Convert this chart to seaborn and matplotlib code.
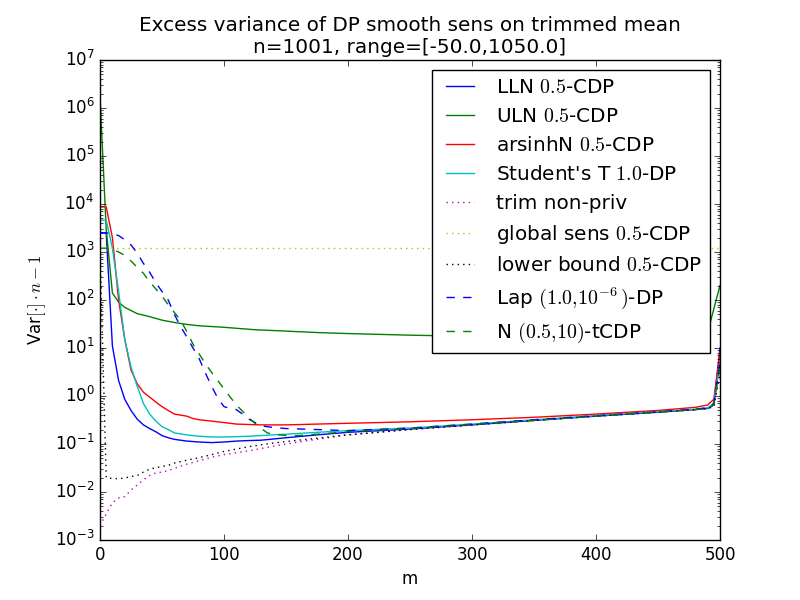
import numpy as np
import pandas as pd
import matplotlib
matplotlib.use("Agg")
import matplotlib.pyplot as plt
import seaborn as sns

# ---------------- data ----------------
m_lln = [0, 5, 10, 15, 20, 25, 30, 35, 40, 45, 50, 55, 60, 70, 80, 90, 100, 110, 120, 130,
         150, 175, 200, 250, 300, 350, 400, 450, 480, 490, 495, 500]
v_lln = [2500, 2500, 11, 2.1, 0.85, 0.5, 0.33, 0.25, 0.21, 0.18, 0.15, 0.135, 0.125, 0.115,
         0.11, 0.107, 0.11, 0.115, 0.118, 0.12, 0.135, 0.155, 0.175, 0.205, 0.25, 0.31, 0.38,
         0.46, 0.52, 0.55, 0.65, 10]

m_uln = [0, 5, 10, 15, 20, 30, 40, 50, 60, 70, 80, 90, 100, 125, 150, 175, 200, 250, 300,
         350, 400, 450, 480, 490, 495, 500]
v_uln = [1.8e6, 3000, 140, 90, 70, 52, 45, 38, 34, 31, 29, 28, 27, 24, 22.5, 21, 20, 18.5,
         17.5, 17, 16.5, 17, 18.5, 21, 65, 200]

m_ars = [0, 5, 10, 15, 20, 25, 30, 35, 40, 45, 50, 55, 60, 65, 70, 75, 80, 90, 100, 110,
         120, 130, 150, 175, 200, 250, 300, 350, 400, 450, 480, 490, 495, 500]
v_ars = [8700, 8700, 2000, 100, 15, 3.5, 1.8, 1.2, 0.95, 0.75, 0.6, 0.5, 0.42, 0.4, 0.38,
         0.34, 0.32, 0.3, 0.28, 0.26, 0.255, 0.25, 0.25, 0.26, 0.27, 0.29, 0.32, 0.36, 0.42,
         0.5, 0.58, 0.65, 0.85, 8]

m_stu = [0, 5, 10, 15, 20, 25, 30, 35, 40, 45, 50, 55, 60, 70, 80, 90, 100, 110, 120, 130,
         150, 175, 200, 250, 300, 350, 400, 450, 480, 490, 495, 500]
v_stu = [4600, 4600, 1200, 150, 15, 4, 1.6, 0.7, 0.42, 0.3, 0.23, 0.2, 0.17, 0.155, 0.145,
         0.14, 0.14, 0.142, 0.145, 0.15, 0.16, 0.175, 0.19, 0.215, 0.26, 0.32, 0.39, 0.47,
         0.53, 0.57, 0.7, 5]

m_trim = [0, 5, 10, 15, 20, 25, 30, 35, 40, 45, 50, 55, 60, 70, 80, 90, 100, 120, 140, 160,
          200, 250, 300, 350, 400, 450, 480, 490, 495, 500]
v_trim = [0.002, 0.0035, 0.006, 0.0075, 0.008, 0.011, 0.014, 0.018, 0.022, 0.025, 0.026,
          0.028, 0.031, 0.038, 0.045, 0.053, 0.06, 0.072, 0.09, 0.11, 0.155, 0.2, 0.25, 0.31,
          0.38, 0.46, 0.52, 0.55, 0.6, 3]

m_glob = [0, 500]
v_glob = [1200, 1200]

m_low = [0, 5, 10, 15, 20, 25, 30, 35, 40, 45, 50, 55, 60, 70, 80, 90, 100, 120, 140, 160,
         200, 250, 300, 350, 400, 450, 480, 490, 495, 500]
v_low = [1200, 0.02, 0.019, 0.019, 0.0195, 0.021, 0.022, 0.026, 0.03, 0.032, 0.034, 0.036,
         0.04, 0.046, 0.052, 0.06, 0.07, 0.088, 0.105, 0.12, 0.155, 0.2, 0.25, 0.31, 0.38,
         0.46, 0.52, 0.55, 0.6, 3]

m_lap = [0, 5, 10, 15, 20, 25, 30, 35, 40, 45, 50, 55, 60, 65, 70, 75, 80, 85, 90, 95, 100,
         105, 110, 115, 120, 125, 130, 140, 150, 175, 200, 250, 300, 350, 400, 450, 480, 490,
         495, 500]
v_lap = [2500, 2500, 2400, 2200, 1800, 1400, 950, 580, 380, 230, 150, 100, 50, 28, 17, 10,
         6, 3, 1.6, 0.9, 0.6, 0.55, 0.52, 0.42, 0.33, 0.28, 0.24, 0.22, 0.21, 0.2, 0.19,
         0.215, 0.26, 0.32, 0.39, 0.47, 0.53, 0.57, 0.7, 5]

m_tcdp = [0, 5, 10, 15, 20, 25, 30, 35, 40, 45, 50, 55, 60, 65, 70, 75, 80, 85, 90, 95, 100,
          105, 110, 115, 120, 125, 130, 135, 140, 150, 160, 175, 200, 250, 300, 350, 400, 450,
          480, 490, 495, 500]
v_tcdp = [1200, 1200, 1150, 1000, 850, 650, 480, 360, 240, 170, 120, 80, 55, 38, 22, 12, 7.5,
          4.7, 3.1, 2.1, 1.4, 0.95, 0.65, 0.48, 0.35, 0.27, 0.21, 0.17, 0.16, 0.15, 0.15,
          0.16, 0.18, 0.21, 0.255, 0.31, 0.38, 0.46, 0.52, 0.56, 0.65, 4]

series = [
    ("LLN $0.5$-CDP", m_lln, v_lln, "b", "-"),
    ("ULN $0.5$-CDP", m_uln, v_uln, "g", "-"),
    ("arsinhN $0.5$-CDP", m_ars, v_ars, "r", "-"),
    ("Student's T $1.0$-DP", m_stu, v_stu, "c", "-"),
    ("trim non-priv", m_trim, v_trim, "m", ":"),
    ("global sens $0.5$-CDP", m_glob, v_glob, "y", ":"),
    ("lower bound $0.5$-CDP", m_low, v_low, "k", ":"),
    ("Lap $(1.0{,}10^{-6}\\,)$-DP", m_lap, v_lap, "b", "--"),
    ("N $(0.5{,}10)$-tCDP", m_tcdp, v_tcdp, "g", "--"),
]

# ---------------- style ----------------
plt.style.use("classic")
plt.rcParams["figure.facecolor"] = "white"
plt.rcParams["savefig.facecolor"] = "white"
plt.rcParams["font.family"] = ["DejaVu Sans"]
plt.rcParams["mathtext.fontset"] = "cm"

fig, ax = plt.subplots(figsize=(8, 6), dpi=100)
fig.subplots_adjust(left=0.125, right=0.9, bottom=0.1, top=0.9)

for label, mx, vy, col, ls in series:
    df = pd.DataFrame({"m": mx, "v": vy})
    sns.lineplot(data=df, x="m", y="v", color=col, linestyle=ls, linewidth=1.0,
                 label=label, ax=ax, estimator=None, sort=False)

ax.set_yscale("log")
ax.set_xlim(0, 500)
ax.set_ylim(1e-3, 1e7)
ax.set_xticks([0, 100, 200, 300, 400, 500])
ax.set_xlabel("m")
ax.set_ylabel(r"Var$[\cdot]\cdot n-1$")
ax.set_title("Excess variance of DP smooth sens on trimmed mean\nn=1001, range=[-50.0,1050.0]",
             fontsize=14.4)
leg = ax.legend(loc="upper right", fontsize=14.4)
leg.get_frame().set_edgecolor("black")

fig.savefig("out.png", dpi=100)
